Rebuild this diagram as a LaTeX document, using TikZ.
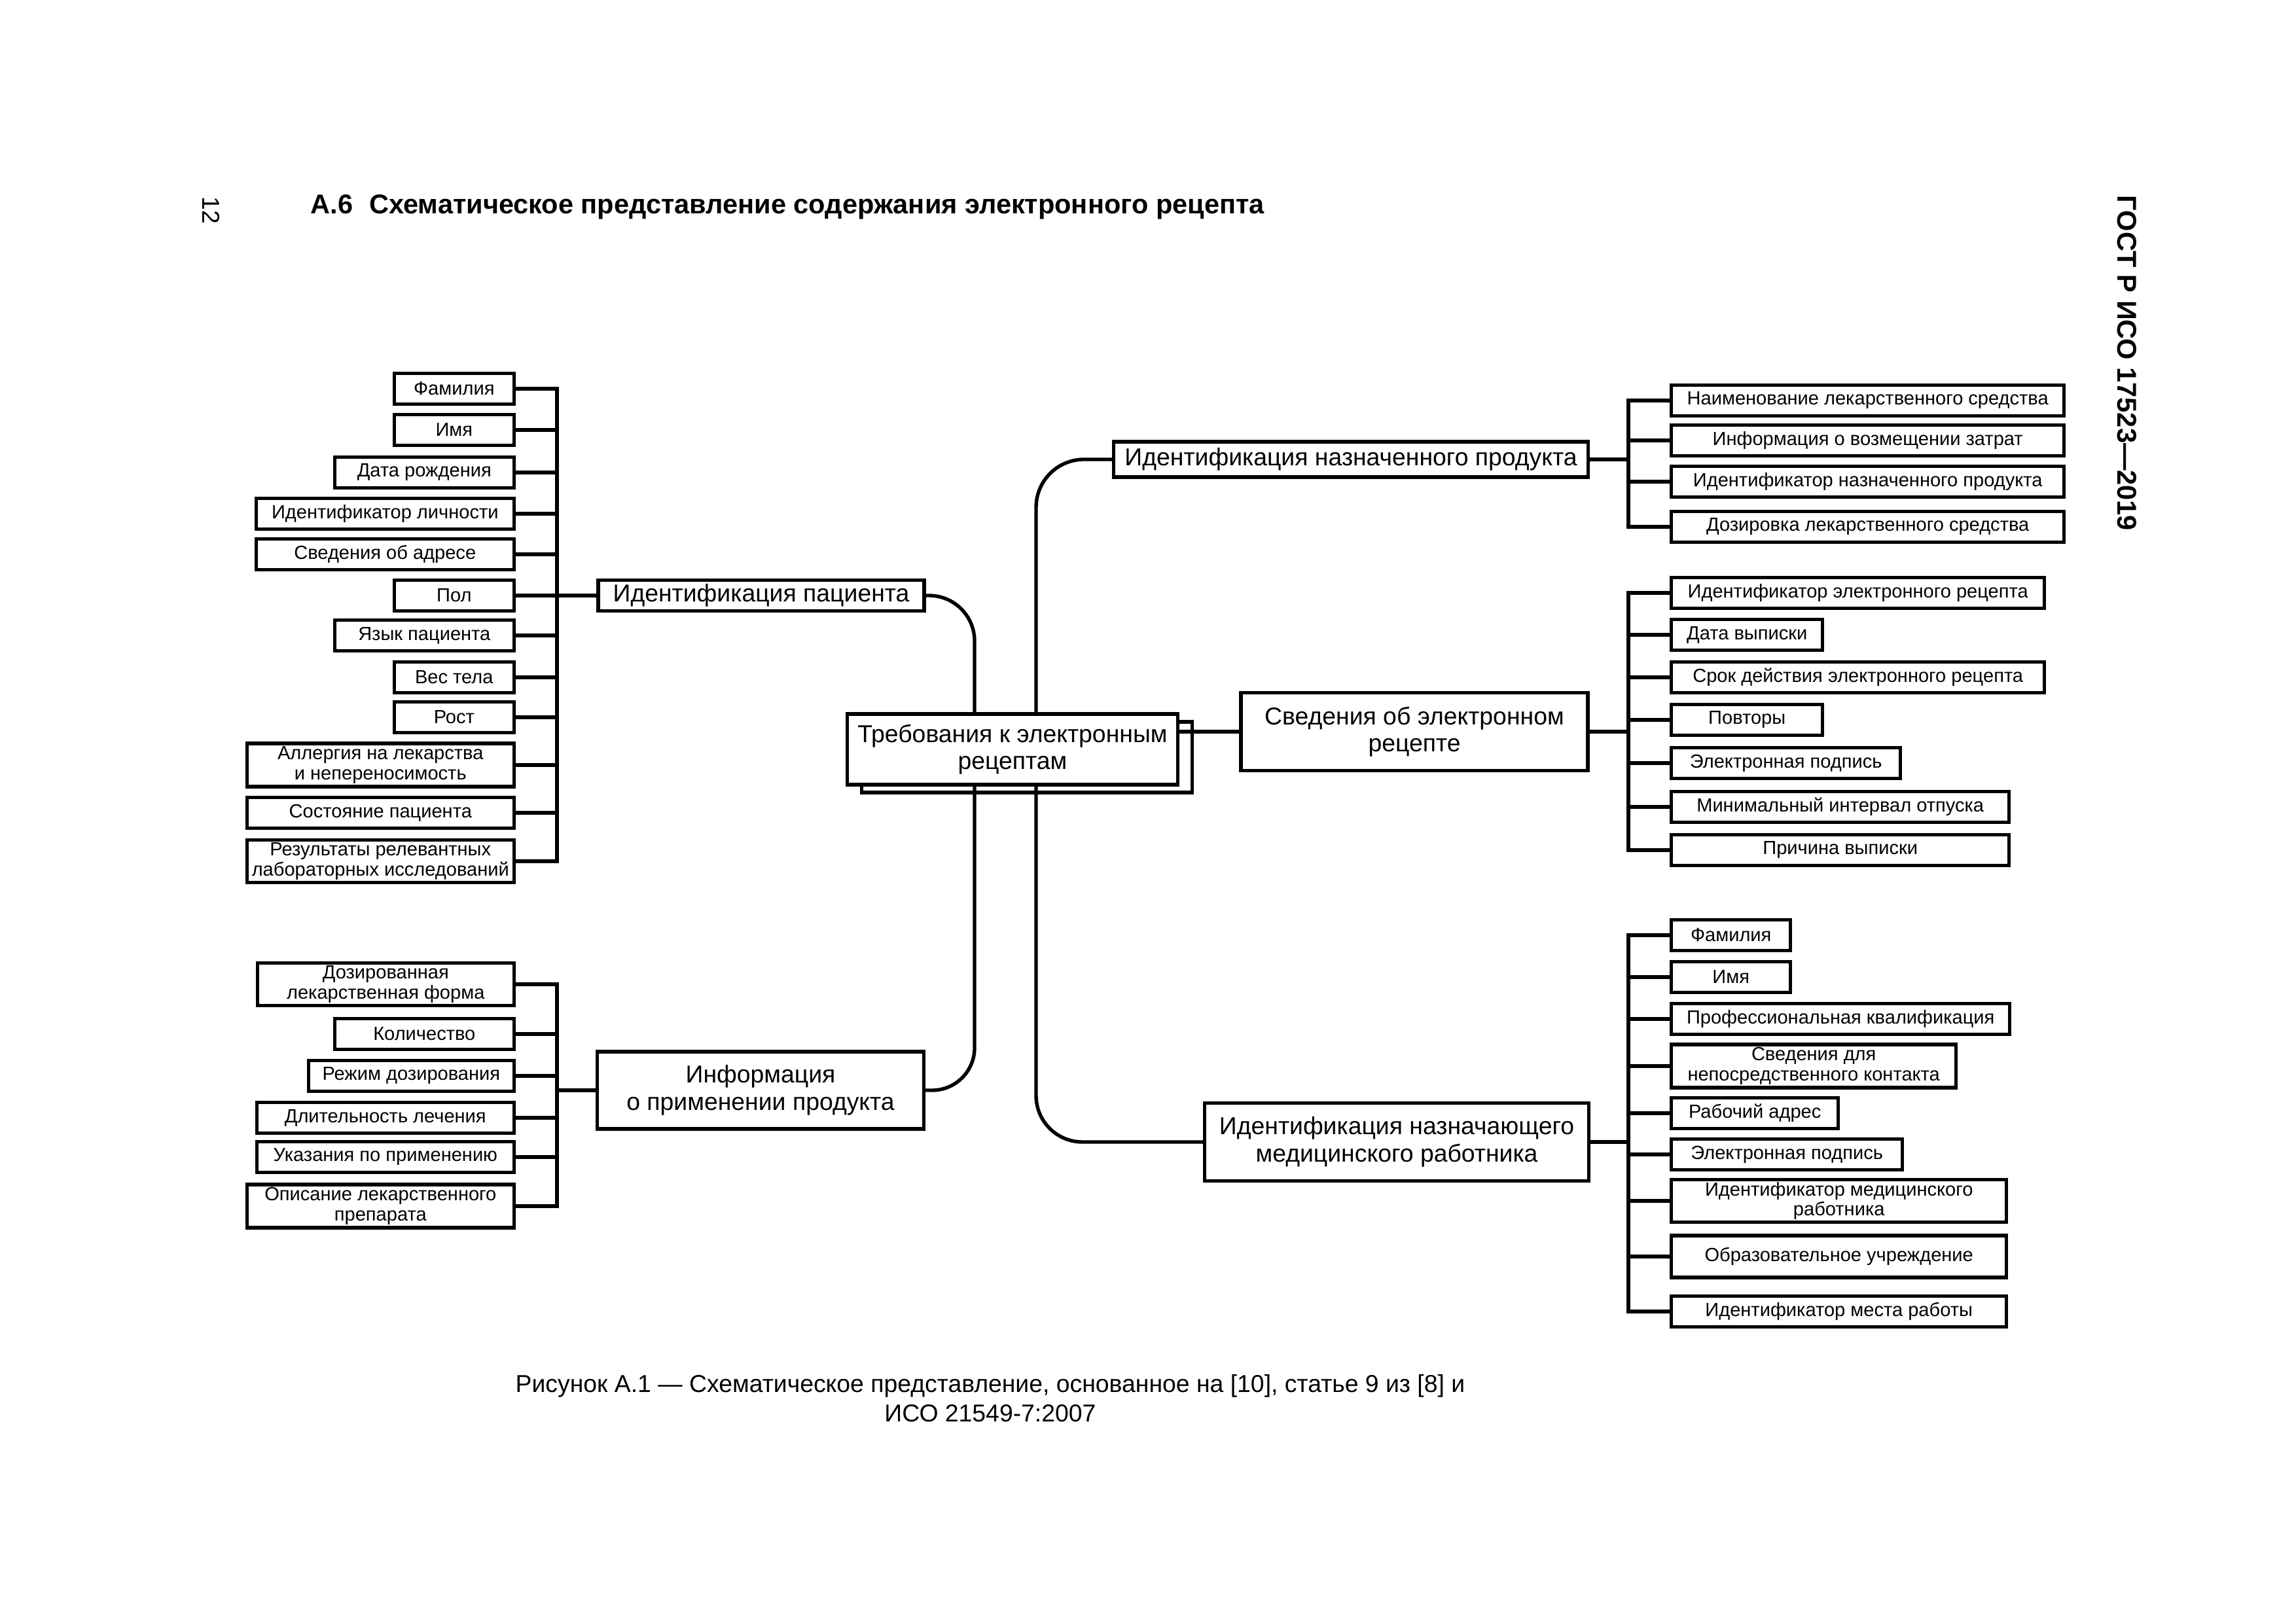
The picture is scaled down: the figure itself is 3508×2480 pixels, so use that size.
\documentclass[tikz,border=0pt]{standalone}
\usepackage{fontspec}
\setmainfont{Liberation Sans}
\usetikzlibrary{shadows}

\tikzset{
  box/.style={draw, line width=1.3pt, fill=white, inner sep=0pt, align=center},
  item/.style={box, font=\fontsize{7}{7.4}\selectfont, minimum height=47*0.084664mm},
  branch/.style={box, font=\fontsize{9}{10}\selectfont},
  root/.style={branch, copy shadow={shadow xshift=1.86mm, shadow yshift=-1mm}},
  link/.style={line width=1.3pt},
  wd/.style={minimum width=#1*0.084664mm},
  ht/.style={minimum height=#1*0.084664mm},
}

\begin{document}
\begin{tikzpicture}[x=0.084664mm, y=-0.084664mm]
        \useasboundingbox (0,0) rectangle (3508,2480);

        % page head
        \node[rotate=-90, anchor=base west, inner sep=0, font=\fontsize{9}{11}\selectfont] (pgno) at (309,300) {12};
        \node[anchor=base west, inner sep=0, font=\bfseries\fontsize{10}{12}\selectfont] (title) at (474,327) {А.6\hspace{0.6em}Схематическое представление содержания электронного рецепта};
        \node[rotate=-90, anchor=base west, inner sep=0, font=\bfseries\fontsize{10}{12}\selectfont] (std) at (3235,298) {ГОСТ Р ИСО 17523—2019};

        % centre
        \node[root, wd=505, ht=108] (req) at (1547,1145) {Требования к электронным\\рецептам};
        \coordinate (trunkL) at (1489,1145);
        \coordinate (trunkR) at (1583,1145);

        % patient
        \node[branch, wd=498, ht=47] (pat) at (1163,910) {Идентификация пациента};
        \node[item, wd=183, anchor=east] (p1) at (788,594) {Фамилия};
        \node[item, wd=183, anchor=east] (p2) at (788,657) {Имя};
        \node[item, wd=274, anchor=east] (p3) at (788,722) {Дата рождения};
        \node[item, wd=394, anchor=east] (p4) at (788,785) {Идентификатор личности};
        \node[item, wd=394, anchor=east] (p5) at (788,847) {Сведения об адресе};
        \node[item, wd=183, anchor=east] (p6) at (788,910) {Пол};
        \node[item, wd=274, anchor=east] (p7) at (788,971) {Язык пациента};
        \node[item, wd=183, anchor=east] (p8) at (788,1035) {Вес тела};
        \node[item, wd=183, anchor=east] (p9) at (788,1096) {Рост};
        \node[item, wd=408, ht=66, anchor=east] (p10) at (788,1169) {Аллергия на лекарства\\и непереносимость};
        \node[item, wd=408, anchor=east] (p11) at (788,1242) {Состояние пациента};
        \node[item, wd=408, ht=65, anchor=east] (p12) at (788,1316) {Результаты релевантных\\лабораторных исследований};
        \coordinate (busP) at (851,910);

        % use of the product
        \node[branch, wd=499, ht=118] (inf) at (1162,1666) {Информация\\о применении продукта};
        \node[item, wd=392, ht=65, anchor=east] (u1) at (788,1504) {Дозированная\\лекарственная форма};
        \node[item, wd=274, anchor=east] (u2) at (788,1580) {Количество};
        \node[item, wd=314, anchor=east] (u3) at (788,1644) {Режим дозирования};
        \node[item, wd=393, anchor=east] (u4) at (788,1708) {Длительность лечения};
        \node[item, wd=393, anchor=east] (u5) at (788,1768) {Указания по применению};
        \node[item, wd=408, ht=66, anchor=east] (u6) at (788,1843) {Описание лекарственного\\препарата};
        \coordinate (busU) at (851,1666);

        % prescribed product
        \node[branch, wd=725, ht=54] (prod) at (2064,702) {Идентификация назначенного продукта};
        \node[item, wd=600, anchor=west] (n1) at (2551,612) {Наименование лекарственного средства};
        \node[item, wd=600, anchor=west] (n2) at (2551,673) {Информация о возмещении затрат};
        \node[item, wd=600, anchor=west] (n3) at (2551,736) {Идентификатор назначенного продукта};
        \node[item, wd=600, anchor=west] (n4) at (2551,805) {Дозировка лекарственного средства};
        \coordinate (busN) at (2488,702);

        % prescription
        \node[branch, wd=530, ht=119] (svd) at (2161,1118) {Сведения об электронном\\рецепте};
        \node[item, wd=570, anchor=west] (s1) at (2551,906) {Идентификатор электронного рецепта};
        \node[item, wd=231, anchor=west] (s2) at (2551,970) {Дата выписки};
        \node[item, wd=570, anchor=west] (s3) at (2551,1035) {Срок действия электронного рецепта};
        \node[item, wd=231, anchor=west] (s4) at (2551,1100) {Повторы};
        \node[item, wd=350, anchor=west] (s5) at (2551,1166) {Электронная подпись};
        \node[item, wd=516, anchor=west] (s6) at (2551,1233) {Минимальный интервал отпуска};
        \node[item, wd=516, anchor=west] (s7) at (2551,1299) {Причина выписки};
        \coordinate (busS) at (2488,1118);

        % prescriber
        \node[branch, wd=587, ht=119] (doc) at (2134,1745) {Идентификация назначающего\\медицинского работника};
        \node[item, wd=182, anchor=west] (m1) at (2551,1429) {Фамилия};
        \node[item, wd=182, anchor=west] (m2) at (2551,1493) {Имя};
        \node[item, wd=517, anchor=west] (m3) at (2551,1557) {Профессиональная квалификация};
        \node[item, wd=435, ht=66, anchor=west] (m4) at (2551,1629) {Сведения для\\непосредственного контакта};
        \node[item, wd=255, anchor=west] (m5) at (2551,1701) {Рабочий адрес};
        \node[item, wd=353, anchor=west] (m6) at (2551,1764) {Электронная подпись};
        \node[item, wd=512, ht=65, anchor=west] (m7) at (2551,1835) {Идентификатор медицинского\\работника};
        \node[item, wd=512, ht=64, anchor=west] (m8) at (2551,1920) {Образовательное учреждение};
        \node[item, wd=512, anchor=west] (m9) at (2551,2004) {Идентификатор места работы};
        \coordinate (busM) at (2488,1745);

        % trunks
        \draw[link, rounded corners=5.9mm] (pat.east) -| (req.north -| trunkL);
        \draw[link, rounded corners=5.5mm] (inf.east) -| (req.south -| trunkL);
        \draw[link, rounded corners=6.2mm] (prod.west) -| (req.north -| trunkR);
        \draw[link, rounded corners=6mm] (doc.west) -| (req.south -| trunkR);
        \draw[link] (svd.west) -- (svd.west -| req.east);

        % patient bus
        \draw[link] (p1.east) -| (busP |- p12.east) -- (p12.east);
        \draw[link] (p2.east) -- (p2.east -| busP);
        \draw[link] (p3.east) -- (p3.east -| busP);
        \draw[link] (p4.east) -- (p4.east -| busP);
        \draw[link] (p5.east) -- (p5.east -| busP);
        \draw[link] (p6.east) -- (p6.east -| busP);
        \draw[link] (p7.east) -- (p7.east -| busP);
        \draw[link] (p8.east) -- (p8.east -| busP);
        \draw[link] (p9.east) -- (p9.east -| busP);
        \draw[link] (p10.east) -- (p10.east -| busP);
        \draw[link] (p11.east) -- (p11.east -| busP);
        \draw[link] (busP) -- (pat.west);

        % product use bus
        \draw[link] (u1.east) -| (busU |- u6.east) -- (u6.east);
        \draw[link] (u2.east) -- (u2.east -| busU);
        \draw[link] (u3.east) -- (u3.east -| busU);
        \draw[link] (u4.east) -- (u4.east -| busU);
        \draw[link] (u5.east) -- (u5.east -| busU);
        \draw[link] (busU) -- (inf.west);

        % product bus
        \draw[link] (n1.west) -| (busN |- n4.west) -- (n4.west);
        \draw[link] (n2.west) -- (n2.west -| busN);
        \draw[link] (n3.west) -- (n3.west -| busN);
        \draw[link] (prod.east) -- (busN);

        % prescription bus
        \draw[link] (s1.west) -| (busS |- s7.west) -- (s7.west);
        \draw[link] (s2.west) -- (s2.west -| busS);
        \draw[link] (s3.west) -- (s3.west -| busS);
        \draw[link] (s4.west) -- (s4.west -| busS);
        \draw[link] (s5.west) -- (s5.west -| busS);
        \draw[link] (s6.west) -- (s6.west -| busS);
        \draw[link] (svd.east) -- (busS);

        % prescriber bus
        \draw[link] (m1.west) -| (busM |- m9.west) -- (m9.west);
        \draw[link] (m2.west) -- (m2.west -| busM);
        \draw[link] (m3.west) -- (m3.west -| busM);
        \draw[link] (m4.west) -- (m4.west -| busM);
        \draw[link] (m5.west) -- (m5.west -| busM);
        \draw[link] (m6.west) -- (m6.west -| busM);
        \draw[link] (m7.west) -- (m7.west -| busM);
        \draw[link] (m8.west) -- (m8.west -| busM);
        \draw[link] (doc.east) -- (busM);

        % caption
        \node[anchor=north, align=center, inner sep=0, font=\fontsize{9}{10.8}\selectfont] (cap) at (1513,2100) {Рисунок А.1 — Схематическое представление, основанное на [10], статье 9 из [8] и\\ИСО 21549-7:2007};
    \end{tikzpicture}
\end{document}
